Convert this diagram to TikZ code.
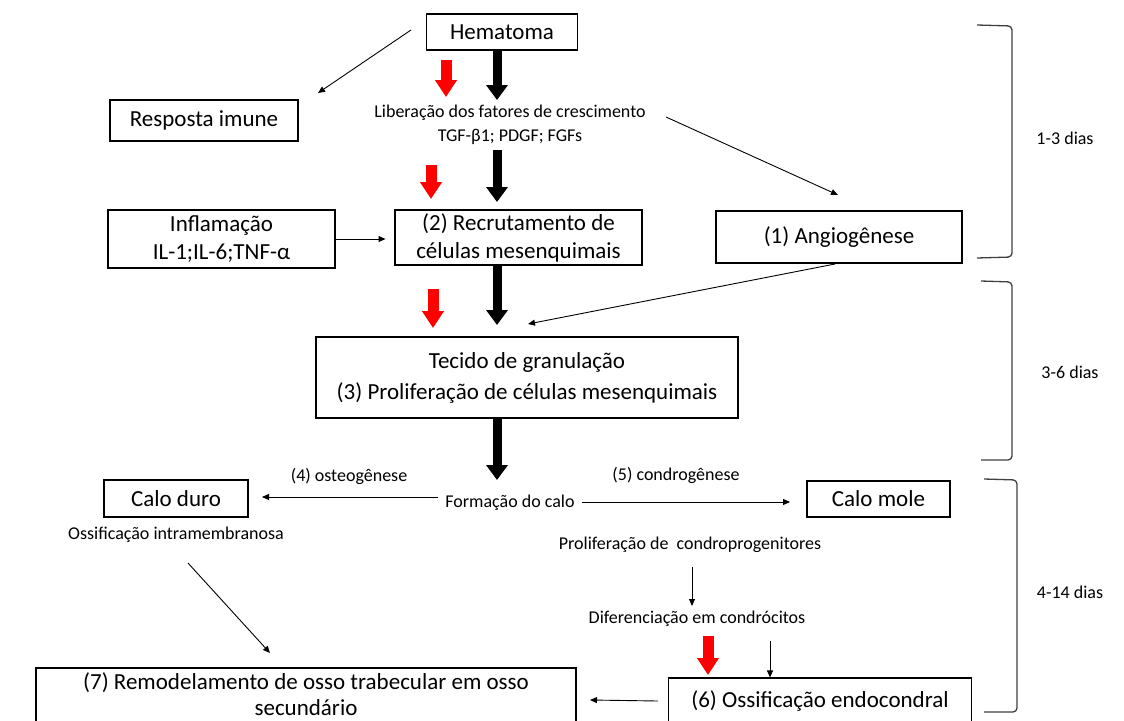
\documentclass[tikz,border=0pt]{standalone}
\usepackage{fontspec}
\setmainfont{Carlito}
\usetikzlibrary{arrows.meta,calc}
\newcommand\bigf{\fontsize{23}{28}\selectfont}
\newcommand\smf{\fontsize{18}{24}\selectfont}
\begin{document}
\begin{tikzpicture}[x=1pt,y=-1pt,
  box/.style={draw, line width=1.1pt, inner sep=0pt, align=center, font=\bigf},
  lbl/.style={inner sep=0pt, align=center, font=\smf},
  thin/.style={line width=0.9pt, -{Triangle[width=6pt,length=7pt]}},
  blk/.style={line width=9pt, -{Triangle[width=21pt,length=15pt]}},
  red/.style={line width=11pt, color=red, -{Triangle[width=21pt,length=17pt]}},
  brk/.style={line width=1.3pt, color=black!75, rounded corners=4pt}]
\useasboundingbox (0,0) rectangle (1124,720);
\clip (0,0) rectangle (1124,720);
% boxes
\node[box, minimum width=151pt, minimum height=36pt] (hem) at (502,32) {Hematoma};
\node[box, minimum width=188pt, minimum height=41pt] (resp) at (204,120.5) {Resposta imune};
\node[lbl] (lib) at (510,125) {Liberação dos fatores de crescimento\\TGF-β1; PDGF; FGFs};
\node[box, minimum width=227pt, minimum height=58pt] (infl) at (221.5,239) {Inflamação\\IL-1;IL-6;TNF-α};
\node[box, minimum width=247pt, minimum height=55pt] (recr) at (518.5,237.5) {(2) Recrutamento de\\células mesenquimais};
\node[box, minimum width=246pt, minimum height=52pt] (ang) at (839,237) {(1) Angiogênese};
\node[box, minimum width=422pt, minimum height=81pt, font=\fontsize{23}{31}\selectfont] (tec) at (527,377.5) {Tecido de granulação\\(3) Proliferação de células mesenquimais};
\node[lbl] (form) at (510,503) {Formação do calo};
\node[lbl] (osteo) at (349,476) {(4) osteogênese};
\node[lbl] (condro) at (676,475) {(5) condrogênese};
\node[box, minimum width=144pt, minimum height=37pt] (calod) at (176,498.5) {Calo duro};
\node[lbl] (ossint) at (176,535) {Ossificação intramembranosa};
\node[box, minimum width=143pt, minimum height=36pt] (calom) at (878.5,499) {Calo mole};
\node[lbl] (prolif) at (690,545) {Proliferação de\ \ condroprogenitores};
\node[lbl] (difer) at (697,619) {Diferenciação em condrócitos};
\node[box, minimum width=303pt, minimum height=46pt] (endo) at (820,701) {(6) Ossificação endocondral};
\node[box, minimum width=540pt, minimum height=60pt] (remo) at (306,698) {};
\node[lbl, font=\fontsize{23}{25.5}\selectfont] (remotxt) at (306,694) {(7) Remodelamento de osso trabecular em osso\\secundário};
% bracket labels
\node[lbl] (d1) at (1065,138) {1-3 dias};
\node[lbl] (d2) at (1070,372) {3-6 dias};
\node[lbl] (d3) at (1070,592) {4-14 dias};
% coordinates
\coordinate (h1) at (411,30); \coordinate (h2) at (318,93);
\coordinate (a1) at (666,117); \coordinate (a2) at (838,195);
\coordinate (g1) at (835,264); \coordinate (g2) at (528,324);
\coordinate (o1) at (188,563); \coordinate (o2) at (270,653);
% thin arrows
\draw[thin] (h1) -- (h2);
\draw[thin] (a1) -- (a2);
\draw[thin] (infl.east) -- ++(50,0) coordinate (i2);
\draw[thin] (g1) -- (g2);
\draw[thin] (form.west) ++(-7,-6) -- (262,497) coordinate (cd);
\draw[thin] (form.east) ++(7,-1) -- (790,502) coordinate (cm);
\draw[thin] (o1) -- (o2);
\draw[thin] (prolif.south -| 692,0) ++(0,14) -- (692,606) coordinate (p2);
\draw[thin] (770,641) coordinate (e1) -- (endo.north -| e1);
\draw[thin] (endo.west) ++(-10,0) -- (590,700) coordinate (r2);
% black thick arrows
\draw[blk] (hem.south -| 497,0) -- (497,100) coordinate (b1);
\draw[blk] (497,150) coordinate (b2) -- (497,202) coordinate (b2e);
\draw[blk] (recr.south -| 497,0) -- (497,325) coordinate (b3);
\draw[blk] (tec.south -| 497,0) -- (497,480) coordinate (b4);
% red arrows
\draw[red] (446,60) coordinate (r1a) -- (446,97);
\draw[red] (431,165) coordinate (r2a) -- (431,199);
\draw[red] (433,289) coordinate (r3a) -- (433,328);
\draw[red] (708,636) coordinate (r4a) -- (708,675);
% brackets
\draw[brk] (977,25) -- (1012,26) -- (1012,257) -- (977,258);
\draw[brk] (981,281) -- (1012,282) -- (1012,460) -- (981,460);
\draw[brk] (984,479) -- (1017,480) -- (1017,712) -- (984,712);
\end{tikzpicture}
\end{document}
